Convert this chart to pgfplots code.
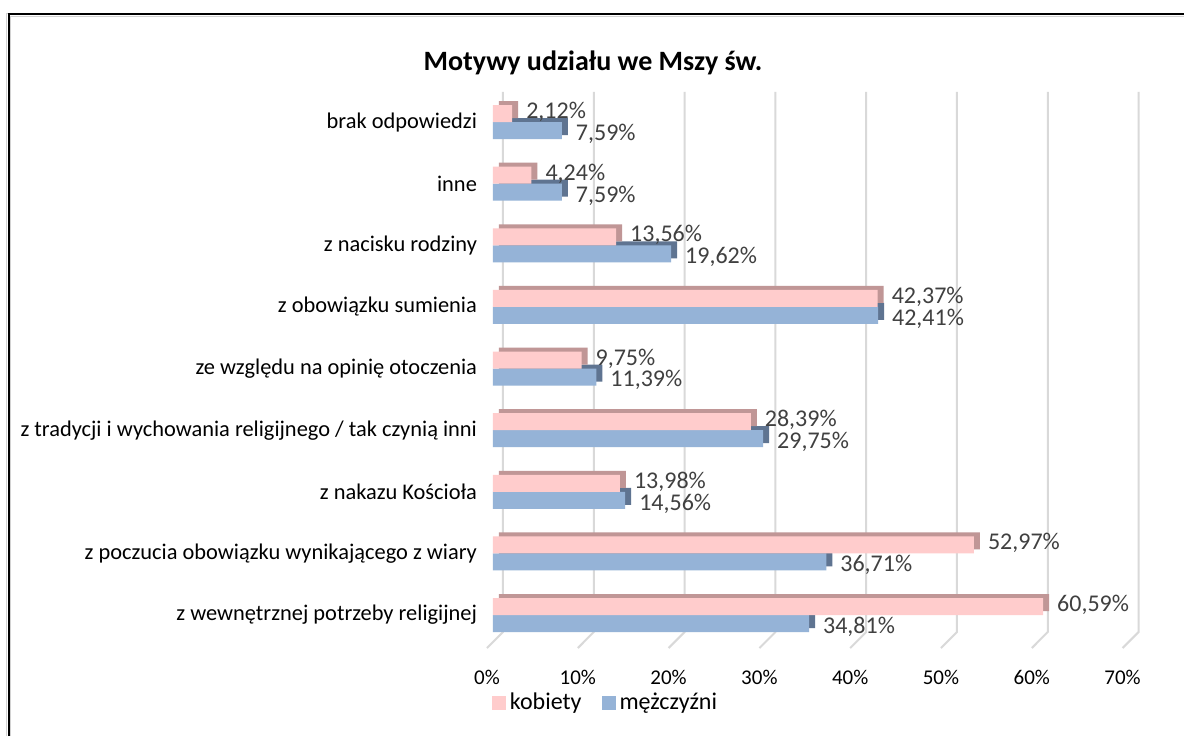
\documentclass[border=0pt]{standalone}
\usepackage{fontspec}
\setmainfont{Carlito}
\usepackage{pgfplots}
\usepackage{pgfplotstable}
\pgfplotsset{compat=1.18}
\definecolor{pinkF}{RGB}{255,204,204}
\definecolor{pinkD}{RGB}{192,150,150}
\definecolor{blueF}{RGB}{149,179,215}
\definecolor{blueD}{RGB}{95,116,145}
\definecolor{gridc}{RGB}{217,217,217}
\definecolor{lab}{RGB}{64,64,64}
\pgfplotstableread{
y K M
0 60.59 34.81
1 52.97 36.71
2 13.98 14.56
3 28.39 29.75
4 9.75 11.39
5 42.37 42.41
6 13.56 19.62
7 4.24 7.59
8 2.12 7.59
}\data
\begin{document}
\begin{tikzpicture}
\useasboundingbox (0,0) rectangle (592pt,368pt);
\fill[white] (0,0) rectangle (592pt,368pt);
\draw[gray!35, line width=0.5pt] (3.4pt,0) -- (3.4pt,361.5pt) -- (592pt,361.5pt);
\draw[gray!35, line width=0.5pt] (5.2pt,0) -- (5.2pt,359.8pt) -- (592pt,359.8pt);
\draw[black, line width=1pt] (4.25pt,0) -- (4.25pt,360.8pt) -- (592pt,360.8pt);
\node[font=\fontsize{14}{17}\selectfont\bfseries] at (296.5pt,336.5pt) {Motywy udziału we Mszy św.};
\begin{axis}[
  at={(246.5pt,43.55pt)}, anchor=south west,
  scale only axis, width=317.8pt, height=278.8pt,
  xmin=0, xmax=70, ymin=-0.55, ymax=8.5,
  xbar, bar width=8.5pt,
  clip=false,
  axis line style={draw=none},
  major tick length=0pt,
  tick style={draw=none},
  ytick={0,...,8},
  yticklabels={z wewnętrznej potrzeby religijnej, z poczucia obowiązku wynikającego z wiary, z nakazu Kościoła, z tradycji i wychowania religijnego / tak czynią inni, ze względu na opinię otoczenia, z obowiązku sumienia, z nacisku rodziny, inne, brak odpowiedzi},
  xtick={0,10,...,70},
  xticklabel={\pgfmathprintnumber{\tick}\%},
  /pgf/number format/assume math mode=true,
  xticklabel style={font=\fontsize{10.5}{12}\selectfont, xshift=-3pt, yshift=-7pt},
  yticklabel style={font=\fontsize{11.2}{13}\selectfont, xshift=-4.5pt},
  legend style={at={(0.1786,-0.097)}, anchor=center, draw=none, fill=none,
    legend columns=2, font=\fontsize{12}{14}\selectfont,
    /tikz/every even column/.append style={column sep=8pt}},
  legend image code/.code={\fill[#1] (0pt,-3.5pt) rectangle (7pt,3.5pt);},
  nodes near coords style={font=\fontsize{12}{14}\selectfont, text=lab, xshift=3.5pt},
]
\addlegendimage{fill=pinkF, draw=none}
\addlegendentry{kobiety}
\addlegendimage{fill=blueF, draw=none}
\addlegendentry{mężczyźni}
\pgfplotsinvokeforeach{0,10,20,30,40,50,60,70}{
  \draw[gridc, line width=1pt] ([xshift=5pt]axis cs:#1,8.49) -- ([xshift=5pt]axis cs:#1,-0.276) -- ([xshift=-3pt]axis cs:#1,-0.536);
}
\addplot[draw=none, fill=blueD, bar shift=-4.25pt, xshift=3pt, yshift=2pt, forget plot] table[x=M,y=y]{\data};
\addplot[draw=none, fill=pinkD, bar shift=4.25pt, xshift=3pt, yshift=2pt, forget plot] table[x=K,y=y]{\data};
\addplot[draw=none, fill=blueF, bar shift=-4.25pt, forget plot, point meta=x,
  nodes near coords={\pgfmathprintnumber[fixed,fixed zerofill,precision=2,use comma]{\pgfplotspointmeta}\%},
  every node near coord/.append style={yshift=-1.6pt, inner ysep=0pt}] table[x=M,y=y]{\data};
\addplot[draw=none, fill=pinkF, bar shift=4.25pt, forget plot, point meta=x,
  nodes near coords={\pgfmathprintnumber[fixed,fixed zerofill,precision=2,use comma]{\pgfplotspointmeta}\%},
  every node near coord/.append style={yshift=0.8pt, inner ysep=0pt}] table[x=K,y=y]{\data};
\end{axis}
\end{tikzpicture}
\end{document}
